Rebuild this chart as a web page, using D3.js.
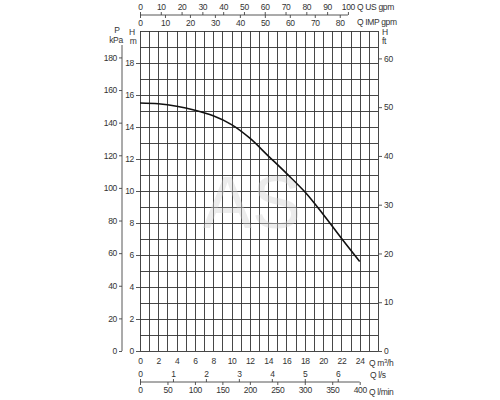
<!DOCTYPE html>
<html><head><meta charset="utf-8">
<script src="https://cdn.jsdelivr.net/npm/d3@7"></script>
<style>
body{margin:0;background:#fff;}
svg text{font-family:"Liberation Sans Narrow","Arial Narrow","Liberation Sans",Arial,sans-serif;font-size:8.5px;letter-spacing:-0.35px;fill:#333;}
</style></head><body>
<svg id="c" width="500" height="400"></svg>
<script>
// Data
const flowM3h = [0, 2, 4, 6, 8, 10, 12, 14, 16, 18, 20, 22, 24];
const headM   = [15.5, 15.45, 15.3, 15.05, 14.7, 14.15, 13.3, 12.2, 11.1, 9.95, 8.55, 7.05, 5.6];
const ticksM3h = [0,2,4,6,8,10,12,14,16,18,20,22,24];
const ticksHm = [0,2,4,6,8,10,12,14,16,18];
const ticksKPa = [0,20,40,60,80,100,120,140,160,180];
const ticksFt = [0,10,20,30,40,50,60];
const ticksUS = [0,10,20,30,40,50,60,70,80,90,100];
const ticksIMP = [0,10,20,30,40,50,60,70,80];
const ticksLs = [0,1,2,3,4,5,6];
const ticksLmin = [0,50,100,150,200,250,300,350,400];

const svg = d3.select("#c");
const QMAX = 26, HMAX = 20;
const x = d3.scaleLinear().domain([0, QMAX]).range([140, 378]);
const y = d3.scaleLinear().domain([0, HMAX]).range([351, 31]);
const xUS = d3.scaleLinear().domain([0, QMAX*4.40287]).range(x.range());
const xIMP = d3.scaleLinear().domain([0, QMAX*3.66615]).range(x.range());
const xLs = d3.scaleLinear().domain([0, QMAX/3.6]).range(x.range());
const xLmin = d3.scaleLinear().domain([0, QMAX/0.06]).range(x.range());
const yKPa = d3.scaleLinear().domain([0, HMAX*9.81]).range(y.range());
const yFt = d3.scaleLinear().domain([0, HMAX/0.3048]).range(y.range());

// grid
const g = svg.append("g").attr("stroke","#333").attr("stroke-width",0.9).attr("shape-rendering","crispEdges");
g.selectAll("line.v").data(d3.range(0, QMAX+1)).join("line")
  .attr("x1", d=>Math.round(x(d))+0.5).attr("x2", d=>Math.round(x(d))+0.5).attr("y1", y(HMAX)).attr("y2", y(0));
g.selectAll("line.h").data(d3.range(0, HMAX+1)).join("line")
  .attr("y1", d=>Math.round(y(d))+0.5).attr("y2", d=>Math.round(y(d))+0.5).attr("x1", x(0)).attr("x2", x(QMAX));

function styleAxis(sel){
  sel.select(".domain").attr("stroke","#444").attr("stroke-width",0.9);
  sel.selectAll(".tick line").attr("stroke","#444").attr("stroke-width",0.9);
  sel.selectAll("text").attr("fill","#333");
}

// left H m axis
const aH = svg.append("g").attr("transform",`translate(${x(0)},0)`)
  .call(d3.axisLeft(y).tickValues(ticksHm).tickSize(4).tickPadding(2).tickFormat(d3.format("d")));
aH.select(".domain").remove(); styleAxis(aH);

// left P kPa axis
const aP = svg.append("g").attr("transform","translate(122,0)")
  .call(d3.axisLeft(yKPa).tickValues(ticksKPa).tickSize(3).tickPadding(2).tickFormat(d3.format("d")));
aP.select(".domain").attr("d", `M0,${yKPa(0)}V45`);
styleAxis(aP);

// right H ft axis
const aF = svg.append("g").attr("transform",`translate(${x(QMAX)},0)`)
  .call(d3.axisRight(yFt).tickValues(ticksFt).tickSize(4).tickPadding(2).tickFormat(d3.format("d")));
aF.select(".domain").remove(); styleAxis(aF);

// bottom m3/h
const aQ = svg.append("g").attr("transform",`translate(0,${y(0)})`)
  .call(d3.axisBottom(x).tickValues(ticksM3h).tickSize(0).tickPadding(7).tickFormat(d3.format("d")));
aQ.select(".domain").remove(); styleAxis(aQ);

// bottom l/s and l/min
const yB = 382;
const aLs = svg.append("g").attr("transform",`translate(0,${yB})`)
  .call(d3.axisTop(xLs).tickValues(ticksLs).tickSize(3).tickPadding(2).tickFormat(d3.format("d")));
aLs.select(".domain").attr("d", `M${xLs(0)},0H${xLmin(400)}`);
styleAxis(aLs);
const aLm = svg.append("g").attr("transform",`translate(0,${yB})`)
  .call(d3.axisBottom(xLmin).tickValues(ticksLmin).tickSize(3).tickPadding(2).tickFormat(d3.format("d")));
aLm.select(".domain").remove(); styleAxis(aLm);

// top US / IMP gpm
const yT = 15;
const aUS = svg.append("g").attr("transform",`translate(0,${yT})`)
  .call(d3.axisTop(xUS).tickValues(ticksUS).tickSize(3).tickPadding(2).tickFormat(d3.format("d")));
aUS.select(".domain").attr("d", `M${xUS(0)},0H${xUS(100)}`);
styleAxis(aUS);
const aIMP = svg.append("g").attr("transform",`translate(0,${yT})`)
  .call(d3.axisBottom(xIMP).tickValues(ticksIMP).tickSize(3).tickPadding(2).tickFormat(d3.format("d")));
aIMP.select(".domain").remove(); styleAxis(aIMP);

// unit labels
const lab = [
  ["Q US gpm", 357, 10, "start"], ["Q IMP gpm", 357, 25, "start"],
  ["P", 117, 33, "middle"], ["kPa", 116, 43, "middle"],
  ["H", 132, 35, "middle"], ["m", 133, 44, "middle"],
  ["H", 382, 35, "start"], ["ft", 382, 44, "start"],
  ["Q l/s", 370, 378, "start"], ["Q l/min", 369, 395, "start"]
];
svg.append("g").selectAll("text").data(lab).join("text")
  .attr("x", d=>d[1]).attr("y", d=>d[2]).attr("text-anchor", d=>d[3]).text(d=>d[0]);
const qm = svg.append("text").attr("x", 369).attr("y", 366);
qm.append("tspan").text("Q m");
qm.append("tspan").attr("dy",-3).style("font-size","6px").text("3");
qm.append("tspan").attr("dy",3).text("/h");

// curve
const pts = flowM3h.map((q,i)=>[q, headM[i]]);
svg.append("path").datum(pts)
  .attr("fill","none").attr("stroke","#111").attr("stroke-width",1.6)
  .attr("d", d3.line().x(d=>x(d[0])).y(d=>y(d[1])).curve(d3.curveCatmullRom));

// watermark
svg.append("text").attr("x", 252).attr("y", 228).attr("text-anchor","middle")
  .style("font-family","Liberation Sans, Arial, sans-serif").style("font-size","74px").style("letter-spacing","0px")
  .style("fill","#d0d0d0").style("opacity",0.4).text("AS");
</script>
</body></html>
